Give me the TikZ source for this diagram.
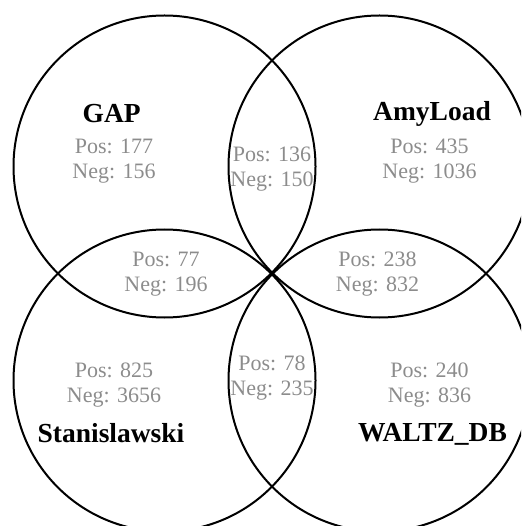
\documentclass[tikz,border=0pt]{standalone}
\usepackage{fontspec}
\setmainfont{Liberation Serif}
\definecolor{countgray}{RGB}{140,140,140}
\tikzset{
  setcircle/.style={draw=black, line width=2pt},
  setname/.style={font=\fontsize{27.5}{32}\selectfont\bfseries, text=black, inner sep=0pt, anchor=base},
  counts/.style={font=\fontsize{22}{25}\selectfont, text=countgray, align=center, inner sep=0pt, anchor=center}
}
\begin{document}
\begin{tikzpicture}[x=1pt, y=-1pt]
  \useasboundingbox (0,0) rectangle (521,526);
  \clip (0,0) rectangle (521,526);
  % the four sets
  \draw[setcircle] (164.5,166.5) circle[radius=151];
  \draw[setcircle] (379.5,166.5) circle[radius=151];
  \draw[setcircle] (164.5,380.5) circle[radius=151];
  \draw[setcircle] (379.5,380.5) circle[radius=151];
  % set names
  \node[setname] (gap)  at (111.7,123) {GAP};
  \node[setname] (amy)  at (432,121) {AmyLoad};
  \node[setname] (stan) at (111,442) {Stanislawski};
  \node[setname] (waltz) at (432.5,441) {WALTZ\_DB};
  % counts per region
  \node[counts] (cgap)   at (114,161.5) {Pos: 177\\Neg: 156};
  \node[counts] (cga)    at (272,168.7) {Pos: 136\\Neg: 150};
  \node[counts] (camy)   at (429.5,161.5) {Pos: 435\\Neg: 1036};
  \node[counts] (cgs)    at (166,273.7) {Pos: 77\\Neg: 196};
  \node[counts] (caw)    at (377.5,273.7) {Pos: 238\\Neg: 832};
  \node[counts] (cstan)  at (114,384.7) {Pos: 825\\Neg: 3656};
  \node[counts] (csw)    at (272,378) {Pos: 78\\Neg: 235};
  \node[counts] (cwaltz) at (429.5,384.7) {Pos: 240\\Neg: 836};
\end{tikzpicture}
\end{document}
